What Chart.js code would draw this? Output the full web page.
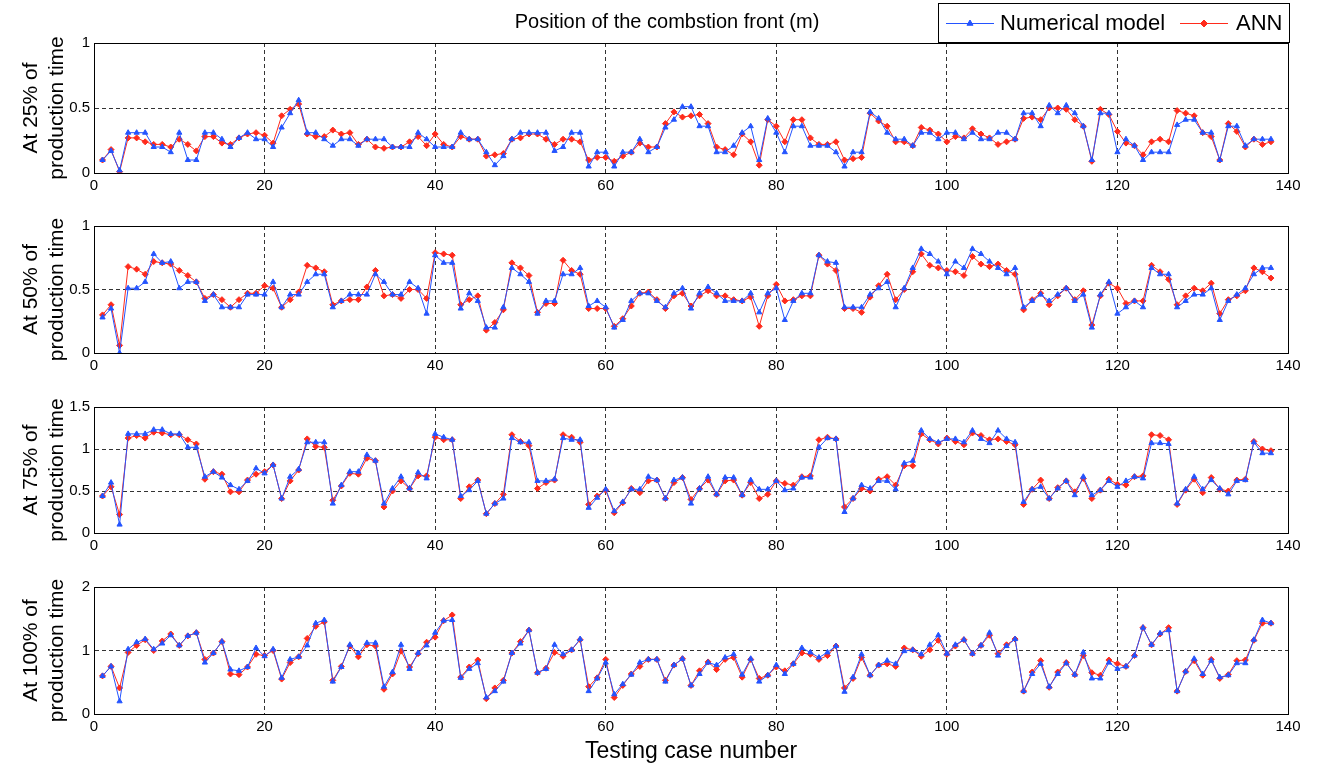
<!DOCTYPE html>
<html>
<head>
<script src="https://cdn.jsdelivr.net/npm/chart.js@4.4.0/dist/chart.umd.min.js"></script>
<style>
  body { margin: 0; background: #fff; }
  canvas { position: absolute; left: 0; }
</style>
</head>
<body>
<canvas id="c1"></canvas>
<canvas id="c2"></canvas>
<canvas id="c3"></canvas>
<canvas id="c4"></canvas>
<script>
// testing case numbers 1..138
const cases = Array.from({length: 138}, (_, i) => i + 1);

const xTicks = [0, 20, 40, 60, 80, 100, 120, 140];

const num25 = [0.1,0.17,0.02,0.31,0.31,0.31,0.2,0.2,0.16,0.31,0.1,0.1,0.31,0.31,0.26,0.2,0.27,0.31,0.26,0.26,
  0.2,0.35,0.46,0.56,0.31,0.31,0.26,0.21,0.26,0.26,0.21,0.26,0.26,0.26,0.2,0.2,0.2,0.31,0.26,0.2,
  0.2,0.2,0.31,0.26,0.26,0.16,0.06,0.13,0.26,0.31,0.31,0.31,0.31,0.17,0.2,0.31,0.31,0.05,0.16,0.16,
  0.05,0.16,0.16,0.26,0.16,0.2,0.35,0.41,0.51,0.51,0.36,0.36,0.16,0.16,0.21,0.31,0.36,0.1,0.42,0.31,
  0.16,0.36,0.36,0.21,0.21,0.21,0.16,0.05,0.16,0.16,0.47,0.42,0.31,0.26,0.26,0.21,0.31,0.31,0.26,0.31,
  0.31,0.26,0.31,0.26,0.26,0.31,0.31,0.26,0.46,0.46,0.36,0.52,0.46,0.52,0.46,0.36,0.1,0.46,0.46,0.16,
  0.26,0.21,0.1,0.16,0.16,0.16,0.37,0.41,0.41,0.31,0.31,0.1,0.36,0.36,0.21,0.26,0.26,0.26];
const ann25 = [0.1,0.18,0.01,0.27,0.27,0.24,0.22,0.22,0.2,0.26,0.22,0.17,0.28,0.28,0.23,0.22,0.27,0.3,0.31,0.29,
  0.23,0.44,0.49,0.53,0.3,0.28,0.28,0.33,0.3,0.31,0.22,0.26,0.2,0.19,0.2,0.2,0.24,0.28,0.21,0.3,
  0.22,0.2,0.28,0.26,0.26,0.13,0.14,0.15,0.26,0.27,0.3,0.3,0.26,0.22,0.26,0.26,0.24,0.1,0.12,0.12,
  0.09,0.13,0.16,0.23,0.2,0.2,0.38,0.47,0.43,0.44,0.45,0.38,0.2,0.18,0.14,0.3,0.24,0.06,0.41,0.36,
  0.24,0.41,0.41,0.27,0.22,0.22,0.24,0.1,0.11,0.12,0.46,0.4,0.36,0.24,0.24,0.21,0.35,0.33,0.3,0.24,
  0.28,0.27,0.34,0.3,0.27,0.22,0.24,0.26,0.42,0.43,0.41,0.5,0.5,0.49,0.41,0.36,0.09,0.49,0.45,0.32,
  0.23,0.21,0.14,0.24,0.26,0.24,0.48,0.46,0.44,0.31,0.28,0.1,0.38,0.32,0.2,0.26,0.22,0.24];

const num50 = [0.28,0.35,0,0.51,0.51,0.56,0.78,0.71,0.72,0.51,0.56,0.56,0.41,0.46,0.36,0.36,0.36,0.46,0.46,0.46,
  0.56,0.36,0.46,0.46,0.56,0.62,0.62,0.36,0.41,0.46,0.46,0.46,0.62,0.56,0.46,0.46,0.56,0.51,0.31,0.77,
  0.71,0.71,0.35,0.47,0.41,0.2,0.2,0.36,0.67,0.62,0.56,0.31,0.41,0.41,0.62,0.62,0.67,0.37,0.41,0.36,
  0.2,0.26,0.41,0.47,0.47,0.41,0.36,0.47,0.51,0.35,0.47,0.52,0.47,0.41,0.41,0.41,0.47,0.32,0.47,0.51,
  0.26,0.41,0.47,0.47,0.77,0.72,0.71,0.36,0.36,0.36,0.46,0.51,0.56,0.36,0.51,0.67,0.82,0.78,0.72,0.62,
  0.72,0.67,0.82,0.78,0.72,0.67,0.62,0.67,0.36,0.41,0.46,0.41,0.46,0.51,0.41,0.46,0.2,0.46,0.56,0.31,
  0.36,0.41,0.36,0.67,0.62,0.62,0.36,0.41,0.46,0.46,0.51,0.26,0.41,0.46,0.51,0.62,0.67,0.67];
const ann50 = [0.3,0.38,0.06,0.68,0.66,0.62,0.72,0.71,0.7,0.65,0.61,0.56,0.43,0.46,0.42,0.36,0.42,0.47,0.47,0.53,
  0.51,0.36,0.42,0.48,0.69,0.67,0.64,0.38,0.41,0.42,0.42,0.52,0.65,0.45,0.46,0.43,0.5,0.5,0.43,0.79,
  0.78,0.77,0.38,0.42,0.45,0.18,0.24,0.34,0.71,0.67,0.61,0.32,0.39,0.39,0.73,0.65,0.62,0.35,0.35,0.35,
  0.21,0.27,0.37,0.47,0.48,0.42,0.35,0.45,0.47,0.37,0.45,0.49,0.45,0.45,0.42,0.41,0.44,0.21,0.45,0.54,
  0.41,0.42,0.45,0.45,0.77,0.7,0.65,0.35,0.35,0.32,0.44,0.53,0.62,0.42,0.5,0.64,0.78,0.69,0.67,0.65,
  0.64,0.61,0.76,0.7,0.68,0.7,0.65,0.62,0.34,0.42,0.47,0.38,0.45,0.51,0.42,0.49,0.22,0.45,0.55,0.51,
  0.39,0.41,0.41,0.69,0.64,0.58,0.38,0.45,0.51,0.49,0.55,0.31,0.42,0.45,0.49,0.67,0.64,0.59];

const num75 = [0.44,0.6,0.1,1.18,1.18,1.18,1.23,1.23,1.18,1.18,1.02,1.02,0.67,0.73,0.66,0.57,0.52,0.62,0.77,0.71,
  0.81,0.41,0.67,0.76,1.08,1.08,1.08,0.35,0.57,0.73,0.73,0.93,0.86,0.35,0.53,0.67,0.53,0.72,0.65,1.18,
  1.14,1.11,0.44,0.51,0.62,0.23,0.35,0.41,1.13,1.08,1.08,0.62,0.62,0.64,1.13,1.11,1.11,0.3,0.42,0.52,
  0.26,0.37,0.52,0.52,0.67,0.63,0.41,0.63,0.66,0.35,0.53,0.67,0.46,0.66,0.66,0.45,0.63,0.52,0.52,0.62,
  0.51,0.53,0.66,0.66,1.02,1.13,1.12,0.25,0.41,0.57,0.53,0.62,0.62,0.52,0.83,0.86,1.22,1.12,1.08,1.12,
  1.12,1.08,1.22,1.12,1.07,1.22,1.12,1.08,0.37,0.52,0.55,0.41,0.53,0.62,0.45,0.67,0.45,0.51,0.62,0.55,
  0.62,0.67,0.65,1.07,1.07,1.06,0.35,0.52,0.67,0.52,0.63,0.53,0.46,0.62,0.63,1.08,0.95,0.95];
const ann75 = [0.44,0.55,0.22,1.13,1.16,1.13,1.2,1.19,1.17,1.17,1.11,1.06,0.64,0.73,0.7,0.49,0.49,0.63,0.7,0.73,
  0.81,0.41,0.62,0.75,1.12,1.03,1.02,0.39,0.56,0.71,0.7,0.89,0.86,0.31,0.5,0.62,0.53,0.68,0.68,1.14,
  1.11,1.11,0.41,0.55,0.63,0.23,0.35,0.46,1.17,1.09,1.04,0.53,0.6,0.63,1.17,1.14,1.08,0.34,0.44,0.51,
  0.24,0.36,0.53,0.48,0.62,0.63,0.41,0.6,0.66,0.4,0.53,0.63,0.46,0.62,0.63,0.45,0.6,0.41,0.46,0.62,
  0.59,0.57,0.67,0.68,1.11,1.14,1.12,0.31,0.41,0.53,0.5,0.64,0.67,0.57,0.8,0.8,1.18,1.11,1.06,1.13,
  1.09,1.05,1.19,1.16,1.11,1.12,1.09,1.05,0.34,0.52,0.63,0.41,0.54,0.62,0.49,0.65,0.41,0.51,0.64,0.58,
  0.57,0.67,0.68,1.17,1.16,1.11,0.34,0.51,0.64,0.48,0.66,0.52,0.5,0.63,0.64,1.09,1.0,0.98];

const num100 = [0.6,0.75,0.2,1.02,1.13,1.18,1.02,1.11,1.24,1.08,1.23,1.28,0.81,0.96,1.14,0.7,0.68,0.74,1.04,0.91,
  1.02,0.57,0.86,0.9,1.08,1.43,1.48,0.51,0.74,1.09,0.96,1.12,1.12,0.43,0.66,1.09,0.71,0.96,1.08,1.28,
  1.47,1.48,0.57,0.71,0.8,0.26,0.36,0.51,0.96,1.11,1.32,0.65,0.71,1.09,0.94,1.01,1.18,0.36,0.56,0.81,
  0.31,0.47,0.62,0.81,0.86,0.86,0.51,0.77,0.87,0.45,0.63,0.81,0.77,0.89,0.94,0.62,0.87,0.51,0.61,0.77,
  0.63,0.79,1.04,0.97,0.89,0.97,1.07,0.35,0.58,0.94,0.61,0.77,0.84,0.79,0.99,1.01,0.94,1.09,1.24,0.95,
  1.09,1.17,0.95,1.08,1.28,0.92,1.07,1.18,0.36,0.63,0.79,0.43,0.63,0.8,0.62,0.97,0.56,0.56,0.81,0.71,
  0.75,0.92,1.36,1.09,1.27,1.32,0.36,0.67,0.87,0.63,0.84,0.58,0.61,0.8,0.8,1.17,1.48,1.43];
const ann100 = [0.6,0.75,0.41,0.97,1.08,1.17,1.0,1.15,1.26,1.08,1.23,1.28,0.86,0.96,1.14,0.63,0.62,0.74,0.94,0.92,
  1.0,0.55,0.81,0.9,1.19,1.38,1.45,0.53,0.75,1.07,0.9,1.09,1.07,0.39,0.63,0.99,0.74,0.95,1.13,1.21,
  1.47,1.56,0.58,0.74,0.85,0.24,0.41,0.53,0.96,1.14,1.32,0.65,0.72,0.97,0.91,1.01,1.17,0.43,0.57,0.86,
  0.26,0.45,0.63,0.75,0.86,0.86,0.53,0.77,0.87,0.45,0.68,0.82,0.7,0.86,0.89,0.58,0.86,0.56,0.61,0.74,
  0.68,0.79,0.96,0.94,0.86,0.92,1.07,0.41,0.56,0.89,0.61,0.77,0.79,0.75,1.04,1.01,0.91,1.01,1.16,0.94,
  1.07,1.17,0.95,1.08,1.24,0.95,1.09,1.18,0.36,0.66,0.84,0.42,0.66,0.81,0.62,0.92,0.65,0.61,0.85,0.79,
  0.75,0.92,1.36,1.09,1.26,1.36,0.36,0.67,0.84,0.61,0.86,0.56,0.62,0.84,0.85,1.16,1.43,1.43];

const FONT = "'Liberation Sans', Arial, sans-serif";
const BLUE = '#2454ff';
const RED = '#ff2b1c';
const W = 1317;
const LEFT = 94;     // y axis box width
const RIGHT = 29;    // space right of the plot

function toXY(vals) {
  return vals.map((v, i) => ({x: cases[i], y: v}));
}

const frame = {
  id: 'frame',
  afterDraw(chart) {
    const a = chart.chartArea, c = chart.ctx;
    c.save();
    c.strokeStyle = '#000';
    c.lineWidth = 1;
    c.strokeRect(Math.round(a.left) + 0.5, Math.round(a.top) + 0.5,
                 Math.round(a.right - a.left), Math.round(a.bottom - a.top));
    c.restore();
  }
};

// title + legend drawn on the top chart
const header = {
  id: 'header',
  afterDraw(chart) {
    const c = chart.ctx;
    c.save();
    c.fillStyle = '#000';
    c.font = '20px ' + FONT;
    c.textAlign = 'center';
    c.textBaseline = 'middle';
    c.fillText('Position of the combstion front (m)', 667, 22);

    c.fillStyle = '#fff';
    c.fillRect(938, 3, 352, 40);
    c.strokeStyle = '#000';
    c.lineWidth = 1;
    c.strokeRect(938.5, 3.5, 351, 39);

    c.font = '22px ' + FONT;
    const ds = chart.data.datasets;
    const items = [{x: 946, tx: 1000}, {x: 1180, tx: 1236}];
    ds.forEach((d, i) => {
      const it = items[i];
      c.strokeStyle = d.borderColor;
      c.fillStyle = d.backgroundColor;
      c.lineWidth = 1;
      c.beginPath();
      c.moveTo(it.x, 23.5);
      c.lineTo(it.x + 48, 23.5);
      c.stroke();
      Chart.helpers.drawPoint(c, {pointStyle: d.pointStyle, radius: 3.5, borderWidth: 1, rotation: 0},
                              it.x + 24, 23.5);
      c.fillStyle = '#000';
      c.textAlign = 'left';
      c.fillText(d.label, it.tx, 24);
    });
    c.restore();
  }
};

function makeChart(id, opts) {
  const cv = document.getElementById(id);
  cv.width = W;
  cv.height = opts.height;
  cv.style.top = opts.top + 'px';
  const plugins = [frame];
  if (opts.header) plugins.push(header);
  return new Chart(cv, {
    type: 'line',
    data: {
      datasets: [
        {label: 'Numerical model', data: toXY(opts.num), borderColor: BLUE, backgroundColor: BLUE,
         borderWidth: 1, pointStyle: 'triangle', pointRadius: 3, pointBorderWidth: 1, tension: 0},
        {label: 'ANN', data: toXY(opts.ann), borderColor: RED, backgroundColor: RED,
         borderWidth: 1, pointStyle: 'rectRot', pointRadius: 3, pointBorderWidth: 1, tension: 0}
      ]
    },
    options: {
      responsive: false,
      animation: false,
      devicePixelRatio: 1,
      layout: {padding: {top: opts.padTop, right: RIGHT, left: 0, bottom: 0}},
      plugins: {legend: {display: false}, tooltip: {enabled: false}},
      scales: {
        x: {
          type: 'linear', min: 0, max: 140,
          afterBuildTicks: s => { s.ticks = xTicks.map(v => ({value: v})); },
          afterFit: s => { s.height = opts.xHeight; },
          ticks: {color: '#000', font: {family: FONT, size: 15}, padding: 4, maxRotation: 0,
                  callback: v => String(v)},
          grid: {color: '#333', lineWidth: 1, drawTicks: false},
          border: {display: true, color: '#000', dash: [4, 3]},
          title: opts.xTitle ? {display: true, text: opts.xTitle, color: '#000',
                                font: {family: FONT, size: 23}, padding: {top: 0, bottom: 6}} : {display: false}
        },
        y: {
          min: 0, max: opts.yMax,
          afterBuildTicks: s => { s.ticks = opts.yTicks.map(v => ({value: v})); },
          afterFit: s => { s.width = LEFT; },
          ticks: {color: '#000', font: {family: FONT, size: 15}, padding: 4, callback: v => String(v)},
          grid: {color: '#333', lineWidth: 1, drawTicks: false},
          border: {display: true, color: '#000', dash: [4, 3]},
          title: {display: true, text: opts.yTitle, color: '#000',
                  font: {family: FONT, size: 21, lineHeight: 1.2}, padding: {top: 19, bottom: 0}}
        }
      }
    },
    plugins: plugins
  });
}

makeChart('c1', {top: 0, height: 43 + 130 + 30, padTop: 43, xHeight: 30, header: true,
  num: num25, ann: ann25, yMax: 1, yTicks: [0, 0.5, 1], yTitle: ['At 25% of', 'production time']});
makeChart('c2', {top: 213, height: 10 + 130 + 30, padTop: 10, xHeight: 30,
  num: num50, ann: ann50, yMax: 1, yTicks: [0, 0.5, 1], yTitle: ['At 50% of', 'production time']});
makeChart('c3', {top: 394, height: 10 + 129 + 30, padTop: 10, xHeight: 30,
  num: num75, ann: ann75, yMax: 1.5, yTicks: [0, 0.5, 1, 1.5], yTitle: ['At 75% of', 'production time']});
makeChart('c4', {top: 574, height: 10 + 130 + 57, padTop: 10, xHeight: 57, xTitle: 'Testing case number',
  num: num100, ann: ann100, yMax: 2, yTicks: [0, 1, 2], yTitle: ['At 100% of', 'production time']});
</script>
</body>
</html>
